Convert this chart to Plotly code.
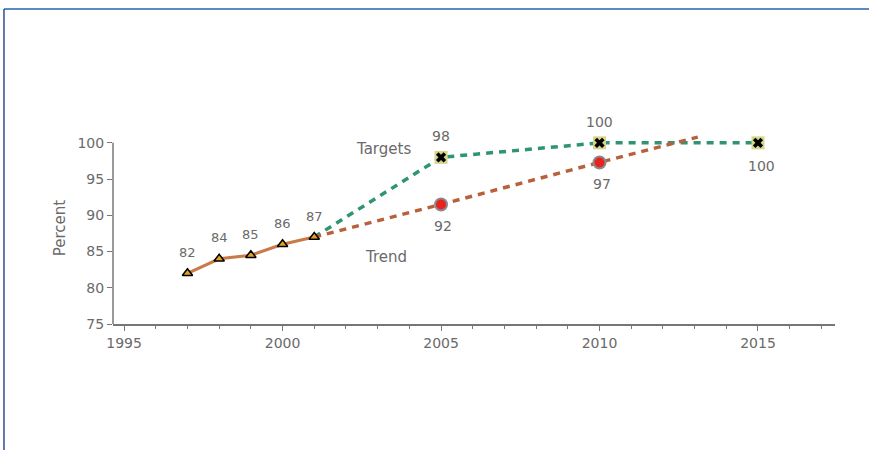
import plotly.graph_objects as go

# ---- data ----
actual_years = [1997, 1998, 1999, 2000, 2001]
actual_vals = [82, 84, 84.5, 86, 87]
actual_labels = ["82", "84", "85", "86", "87"]

target_years = [2001, 2005, 2010, 2015]
target_vals = [87, 98, 100, 100]
target_mark_years = [2005, 2010, 2015]
target_mark_vals = [98, 100, 100]
target_labels = ["98", "100", "100"]
target_label_above = [True, True, False]

trend_years = [2001, 2005, 2010, 2013.1]
trend_vals = [87, 91.5, 97.3, 100.8]
trend_mark_years = [2005, 2010]
trend_mark_vals = [91.5, 97.3]
trend_labels = ["92", "97"]

x_ticks = [1995, 2000, 2005, 2010, 2015]
y_ticks = [75, 80, 85, 90, 95, 100]

FONT = "DejaVu Sans"
TXT = "#6a6a6a"
GREEN = "#2f9474"
BROWN = "#b8603a"
ORANGE = "#c97a48"

fig = go.Figure()

fig.add_trace(go.Scatter(x=target_years, y=target_vals, mode="lines",
                         line=dict(color=GREEN, width=3.5, dash="7px,6px"),
                         hoverinfo="skip"))
fig.add_trace(go.Scatter(x=trend_years, y=trend_vals, mode="lines",
                         line=dict(color=BROWN, width=3.5, dash="7px,6px"),
                         hoverinfo="skip"))
fig.add_trace(go.Scatter(x=actual_years, y=actual_vals, mode="lines+markers",
                         line=dict(color=ORANGE, width=3),
                         marker=dict(symbol="triangle-up", size=9, color="#e6a21e",
                                     line=dict(color="black", width=1.5))))
fig.add_trace(go.Scatter(x=trend_mark_years, y=trend_mark_vals, mode="markers",
                         marker=dict(symbol="circle", size=12, color="#e8231f",
                                     line=dict(color="#8a8a8a", width=2))))
fig.add_trace(go.Scatter(x=target_mark_years, y=target_mark_vals, mode="markers",
                         marker=dict(symbol="square", size=13, color="#d6d68a",
                                     line=dict(width=0))))
fig.add_trace(go.Scatter(x=target_mark_years, y=target_mark_vals, mode="markers",
                         marker=dict(symbol="x", size=9, color="black",
                                     line=dict(width=0)),
                         hoverinfo="skip"))

for xv, yv, t in zip(actual_years, actual_vals, actual_labels):
    fig.add_annotation(x=xv, y=yv, text=t, showarrow=False, yshift=21,
                       font=dict(family=FONT, size=13, color=TXT))
for xv, yv, t, above in zip(target_mark_years, target_mark_vals, target_labels, target_label_above):
    fig.add_annotation(x=xv, y=yv, text=t, showarrow=False,
                       yshift=21 if above else -23, xshift=0 if above else 4,
                       font=dict(family=FONT, size=14, color=TXT))
for xv, yv, t in zip(trend_mark_years, trend_mark_vals, trend_labels):
    fig.add_annotation(x=xv, y=yv, text=t, showarrow=False, yshift=-22, xshift=2,
                       font=dict(family=FONT, size=14, color=TXT))

fig.add_annotation(x=2003.17, y=99.1, text="Targets", showarrow=False,
                   font=dict(family=FONT, size=15, color=TXT))
fig.add_annotation(x=2003.27, y=84.2, text="Trend", showarrow=False,
                   font=dict(family=FONT, size=15, color=TXT))

# y axis line only from 75 to 100
fig.add_shape(type="line", xref="paper", yref="y", x0=0, x1=0, y0=75, y1=100,
              line=dict(color="#777", width=1.5))

# outer frame (top blue, left navy)
fig.add_shape(type="line", xref="paper", yref="paper", x0=-0.151, x1=1.06,
              y0=1.6406, y1=1.6406, line=dict(color="#5b8bc4", width=2))
fig.add_shape(type="line", xref="paper", yref="paper", x0=-0.151, x1=-0.151,
              y0=1.6406, y1=-0.7, line=dict(color="#2f4f8f", width=1.5))

fig.update_layout(
    width=869, height=450,
    margin=dict(l=113, r=34, t=132, b=126),
    paper_bgcolor="white", plot_bgcolor="white",
    showlegend=False,
    font=dict(family=FONT, color=TXT),
    xaxis=dict(range=[1994.65, 2017.43], tickvals=x_ticks,
               ticktext=[str(v) for v in x_ticks],
               showgrid=False, zeroline=False, showline=True,
               linecolor="#777", linewidth=1.5,
               ticks="outside", ticklen=5, tickcolor="#777",
               minor=dict(dtick=1, ticks="outside", ticklen=3, tickcolor="#777"),
               tickfont=dict(family=FONT, size=14, color=TXT)),
    yaxis=dict(range=[75, 101.5], tickvals=y_ticks,
               showgrid=False, zeroline=False, showline=False,
               ticks="outside", ticklen=5, tickcolor="#777",
               tickfont=dict(family=FONT, size=14, color=TXT),
               title=dict(text="Percent", font=dict(family=FONT, size=15, color=TXT),
                          standoff=8)),
)

fig.write_html("out.html", config={"displayModeBar": False},
               post_script="document.body.style.margin='0';")
